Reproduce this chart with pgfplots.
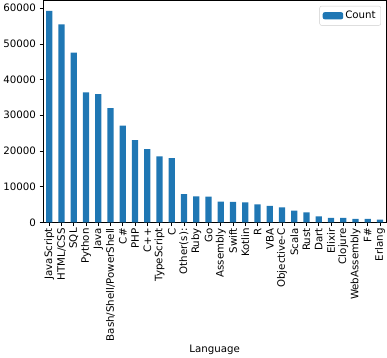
\documentclass[border=0pt]{standalone}
\usepackage{fontspec}
\setmainfont{DejaVu Sans}
\usepackage{pgfplots}
\usepackage{pgfplotstable}
\pgfplotsset{compat=1.18}
\definecolor{mplblue}{HTML}{1F77B4}
\pgfplotstableread{
idx count
0 59219
1 55466
2 47544
3 36443
4 35917
5 31991
6 27097
7 23030
8 20524
9 18523
10 18017
11 7920
12 7331
13 7201
14 5833
15 5744
16 5620
17 5048
18 4655
19 4191
20 3309
21 2794
22 1683
23 1260
24 1254
25 1015
26 973
27 777
}\datatable
\begin{document}
\begin{tikzpicture}
\begin{axis}[
  scale only axis,
  width=335pt, height=217pt,
  xmin=-0.5, xmax=27.5,
  ymin=0, ymax=62180,
  ytick={0,10000,20000,30000,40000,50000,60000},
  scaled y ticks=false,
  yticklabel style={/pgf/number format/fixed, /pgf/number format/1000 sep={}},
  /pgf/number format/assume math mode=true,
  xtick={0,...,27},
  xticklabels={JavaScript,HTML/CSS,SQL,Python,Java,Bash/Shell/PowerShell,C\#,PHP,C++,TypeScript,C,Other(s):,Ruby,Go,Assembly,Swift,Kotlin,R,VBA,Objective-C,Scala,Rust,Dart,Elixir,Clojure,WebAssembly,F\#,Erlang},
  xticklabel style={rotate=90, anchor=east, font=\fontsize{10}{12}\selectfont, inner sep=2pt},
  yticklabel style={font=\fontsize{10}{12}\selectfont},
  tick align=outside,
  tick pos=left,
  major tick length=3.5pt,
  tick style={black, line width=0.6pt},
  axis line style={black, line width=0.6pt},
  xlabel={Language},
  xlabel style={font=\fontsize{10}{12}\selectfont, inner sep=2pt},
  legend style={at={(0.985,0.975)}, anchor=north east, draw=black!20, rounded corners=2pt, font=\fontsize{10}{12}\selectfont, inner sep=3pt},
  legend cell align=left,
]
\addplot[ybar, bar width=0.5, fill=mplblue, draw=none, area legend,
  legend image code/.code={\fill[mplblue] (0pt,-3.5pt) rectangle (20pt,3.5pt);}]
  table[x=idx, y=count] {\datatable};
\addlegendentry{Count}
\end{axis}
\end{tikzpicture}
\end{document}
